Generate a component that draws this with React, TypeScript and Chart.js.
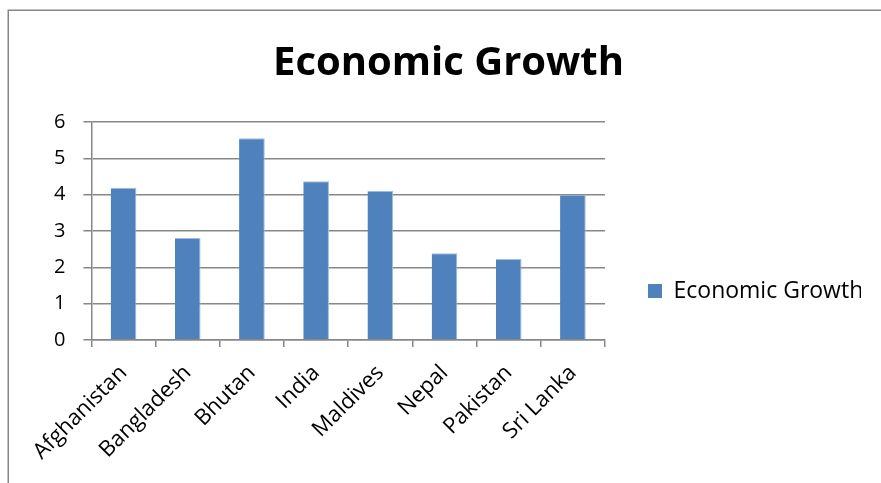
import React, { useEffect, useRef } from "react";
import { Chart, registerables } from "chart.js";

Chart.register(...registerables);

const categories = ["Afghanistan", "Bangladesh", "Bhutan", "India", "Maldives", "Nepal", "Pakistan", "Sri Lanka"];
const growthValues = [4.19, 2.81, 5.55, 4.37, 4.11, 2.39, 2.23, 4.0];
const seriesName = "Economic Growth";
const chartTitle = "Economic Growth";
const yMin = 0;
const yMax = 6;
const yStep = 1;

const FONT = "'Open Sans', 'DejaVu Sans', sans-serif";
const GRID = "#878787";

const framePlugin = {
  id: "frame",
  beforeDraw(chart: any) {
    const ctx = chart.ctx;
    ctx.save();
    ctx.fillStyle = "#ffffff";
    ctx.fillRect(0, 0, chart.width, chart.height);
    ctx.strokeStyle = GRID;
    ctx.lineWidth = 1.5;
    ctx.beginPath();
    ctx.moveTo(8.25, chart.height);
    ctx.lineTo(8.25, 10.25);
    ctx.lineTo(chart.width, 10.25);
    ctx.stroke();
    ctx.restore();
  },
};

export default function App() {
  const canvasRef = useRef<HTMLCanvasElement | null>(null);

  useEffect(() => {
    if (!canvasRef.current) return;
    const chart = new Chart(canvasRef.current, {
      type: "bar",
      data: {
        labels: categories,
        datasets: [
          {
            label: seriesName,
            data: growthValues,
            backgroundColor: "#4F81BD",
            borderColor: "#A3BCDD",
            borderWidth: { top: 1, right: 1, left: 0, bottom: 0 },
            borderSkipped: "start",
            barPercentage: 0.4,
            categoryPercentage: 1.0,
          },
        ],
      },
      options: {
        responsive: false,
        animation: false,
        layout: { padding: { left: 36, right: 20, top: 0, bottom: 5 } },
        plugins: {
          title: {
            display: true,
            text: chartTitle,
            color: "#000",
            font: { family: FONT, size: 40, weight: "bold" },
            padding: { top: 40, bottom: 34 },
          },
          legend: {
            position: "right",
            maxWidth: 256,
            title: {
              display: true,
              text: " ",
              font: { family: FONT, size: 10 },
              padding: 46,
            },
            labels: {
              boxWidth: 14,
              boxHeight: 14,
              padding: 43,
              color: "#000",
              font: { family: FONT, size: 23 },
              generateLabels: (chart: any) =>
                chart.data.datasets.map((ds: any, i: number) => ({
                  text: ds.label,
                  fillStyle: ds.backgroundColor,
                  strokeStyle: ds.backgroundColor,
                  lineWidth: 0,
                  hidden: false,
                  datasetIndex: i,
                  fontColor: "#000",
                })),
            },
          },
          tooltip: { enabled: false },
        },
        scales: {
          x: {
            offset: true,
            grid: {
              display: true,
              offset: true,
              drawOnChartArea: false,
              drawTicks: true,
              tickLength: 7,
              color: GRID,
              lineWidth: 1.5,
            },
            border: { display: true, color: GRID, width: 1.5 },
            ticks: {
              autoSkip: false,
              minRotation: 45,
              maxRotation: 45,
              padding: 13,
              color: "#000",
              font: { family: FONT, size: 22 },
            },
          },
          y: {
            min: yMin,
            max: yMax,
            grid: {
              color: GRID,
              lineWidth: 1.5,
              drawTicks: true,
              tickLength: 8,
            },
            border: { display: true, color: GRID, width: 1.5 },
            ticks: {
              stepSize: yStep,
              padding: 18,
              color: "#000",
              font: { family: FONT, size: 20 },
            },
          },
        },
      },
      plugins: [framePlugin],
    });
    return () => chart.destroy();
  }, []);

  return (
    <div style={{ position: "fixed", left: 0, top: 0, width: 881, height: 483, background: "#fff" }}>
      <canvas ref={canvasRef} width={881} height={483} style={{ display: "block" }} />
    </div>
  );
}
